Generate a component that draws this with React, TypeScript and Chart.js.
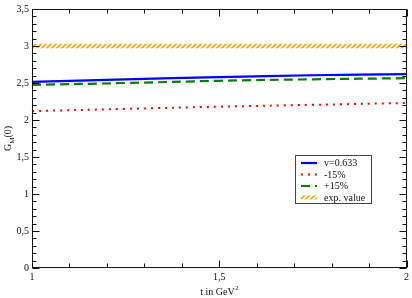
import React, { useEffect, useRef } from 'react';
import { Chart, registerables } from 'chart.js';

Chart.register(...registerables);

// ---- data ----
const tValues = [1, 1.25, 1.5, 1.75, 2];
const gBase = [2.515, 2.55, 2.58, 2.605, 2.62];
const gMinus15 = [2.12, 2.15, 2.18, 2.205, 2.23];
const gPlus15 = [2.475, 2.5, 2.53, 2.55, 2.565];
const expT = [1, 2];
const expUpper = [3.03, 3.03];
const expLower = 2.97;
const seriesLabels = ['v=0.633', '-15%', '+15%', 'exp. value'];
const xTickLabels = ['1', '1,5', '2'];
const yTickLabels = ['0', '0,5', '1', '1,5', '2', '2,5', '3', '3,5'];
const xTitle = 't in GeV';
const xTitleSup = '2';
const yTitleMain = 'G';
const yTitleSub = 'M';
const yTitleTail = '(0)';

const SERIF = "'Liberation Serif', 'DejaVu Serif', serif";

function makeHatch(): CanvasPattern | string {
  const c = document.createElement('canvas');
  c.width = 5;
  c.height = 5;
  const g = c.getContext('2d');
  if (!g) return '#ffa500';
  g.strokeStyle = '#ffa500';
  g.lineWidth = 1.7;
  g.beginPath();
  g.moveTo(-1, 6); g.lineTo(6, -1);
  g.moveTo(-6, 6); g.lineTo(6, -6);
  g.moveTo(-1, 11); g.lineTo(11, -1);
  g.stroke();
  const p = g.createPattern(c, 'repeat');
  return p || '#ffa500';
}

const framePlugin = {
  id: 'framePlugin',
  afterDraw(chart: any) {
    const { ctx, chartArea } = chart;
    const xs = chart.scales.x;
    const ys = chart.scales.y;
    const L = Math.round(chartArea.left) + 0.5;
    const R = Math.round(chartArea.right) - 0.5;
    const T = Math.round(chartArea.top) + 0.5;
    const B = Math.round(chartArea.bottom) - 0.5;
    ctx.save();
    ctx.strokeStyle = '#111';
    ctx.lineWidth = 1;
    ctx.strokeRect(L, T, R - L, B - T);
    ctx.beginPath();
    // x ticks
    for (let i = 0; i <= 10; i++) {
      const v = 1 + i * 0.1;
      const px = Math.round(xs.getPixelForValue(v)) + 0.5;
      const len = i % 5 === 0 ? 7 : 4;
      ctx.moveTo(px, B); ctx.lineTo(px, B - len);
      ctx.moveTo(px, T); ctx.lineTo(px, T + len);
    }
    // y ticks
    for (let i = 0; i <= 35; i++) {
      const v = i * 0.1;
      const py = Math.round(ys.getPixelForValue(v)) + 0.5;
      const len = i % 5 === 0 ? 7 : 4;
      ctx.moveTo(L, py); ctx.lineTo(L + len, py);
      ctx.moveTo(R, py); ctx.lineTo(R - len, py);
    }
    ctx.stroke();

    // axis titles
    ctx.fillStyle = '#111';
    ctx.textBaseline = 'alphabetic';
    // x title
    ctx.font = `10px ${SERIF}`;
    const w1 = ctx.measureText(xTitle).width;
    ctx.font = `7px ${SERIF}`;
    const w2 = ctx.measureText(xTitleSup).width;
    const cx = (chartArea.left + chartArea.right) / 2;
    const sx = cx - (w1 + w2) / 2;
    ctx.font = `10px ${SERIF}`;
    ctx.textAlign = 'left';
    ctx.fillText(xTitle, sx, 295);
    ctx.font = `7px ${SERIF}`;
    ctx.fillText(xTitleSup, sx + w1 + 0.5, 290);

    // y title (rotated)
    ctx.save();
    ctx.translate(11, (chartArea.top + chartArea.bottom) / 2);
    ctx.rotate(-Math.PI / 2);
    ctx.font = `10px ${SERIF}`;
    const a = ctx.measureText(yTitleMain).width;
    const c2 = ctx.measureText(yTitleTail).width;
    ctx.font = `7px ${SERIF}`;
    const b = ctx.measureText(yTitleSub).width;
    const st = -(a + b + c2) / 2;
    ctx.font = `10px ${SERIF}`;
    ctx.fillText(yTitleMain, st, 0);
    ctx.font = `7px ${SERIF}`;
    ctx.fillText(yTitleSub, st + a, 3);
    ctx.font = `10px ${SERIF}`;
    ctx.fillText(yTitleTail, st + a + b, 0);
    ctx.restore();

    // legend
    const bx = 295.5, by = 155.5, bw = 76, bh = 48;
    ctx.fillStyle = '#fff';
    ctx.fillRect(bx, by, bw, bh);
    ctx.strokeStyle = '#444';
    ctx.lineWidth = 1;
    ctx.strokeRect(bx, by, bw, bh);
    const rows = [163, 174.5, 186, 197.5];
    const ds = chart.data.datasets;
    [0, 1, 2, 3].forEach((di, k) => {
      const d = ds[di];
      const y = rows[k];
      if (di === 3) {
        ctx.fillStyle = d.backgroundColor;
        ctx.fillRect(301, y - 2, 16, 4);
      } else {
        ctx.save();
        ctx.strokeStyle = d.borderColor;
        ctx.lineWidth = d.borderWidth;
        ctx.setLineDash(d.borderDash || []);
        ctx.beginPath();
        ctx.moveTo(301, y);
        ctx.lineTo(317, y);
        ctx.stroke();
        ctx.restore();
      }
      ctx.fillStyle = '#111';
      ctx.font = `10px ${SERIF}`;
      ctx.textAlign = 'left';
      ctx.textBaseline = 'middle';
      ctx.fillText(d.label, 324, y + 0.5);
    });
    ctx.restore();
  },
};

export default function App() {
  const ref = useRef<HTMLCanvasElement | null>(null);
  useEffect(() => {
    if (!ref.current) return;
    const hatch = makeHatch();
    const pts = (ys: number[]) => tValues.map((t, i) => ({ x: t, y: ys[i] }));
    const chart = new Chart(ref.current, {
      type: 'line',
      data: {
        datasets: [
          {
            label: seriesLabels[0],
            data: pts(gBase),
            borderColor: '#0000ff',
            borderWidth: 2.2,
            pointRadius: 0,
            fill: false,
            tension: 0.4,
          },
          {
            label: seriesLabels[1],
            data: pts(gMinus15),
            borderColor: '#ff0000',
            borderWidth: 2,
            borderDash: [2, 5],
            pointRadius: 0,
            fill: false,
            tension: 0.4,
          },
          {
            label: seriesLabels[2],
            data: pts(gPlus15),
            borderColor: '#008000',
            borderWidth: 2.2,
            borderDash: [9, 5],
            pointRadius: 0,
            fill: false,
            tension: 0.4,
          },
          {
            label: seriesLabels[3],
            data: expT.map((t, i) => ({ x: t, y: expUpper[i] })),
            borderWidth: 0,
            borderColor: 'rgba(0,0,0,0)',
            backgroundColor: hatch as any,
            pointRadius: 0,
            fill: { value: expLower } as any,
          },
        ],
      },
      options: {
        responsive: false,
        animation: false,
        devicePixelRatio: 1,
        layout: { padding: { top: 5, right: 4, left: 0, bottom: 0 } },
        plugins: { legend: { display: false }, tooltip: { enabled: false } },
        scales: {
          x: {
            type: 'linear',
            min: 1,
            max: 2,
            grid: { display: false, drawTicks: false },
            border: { display: false },
            ticks: {
              stepSize: 0.5,
              autoSkip: false,
              maxRotation: 0,
              padding: 3,
              color: '#111',
              font: { family: SERIF, size: 10 },
              callback: (v: any) => {
                const idx = Math.round((Number(v) - 1) / 0.5);
                return xTickLabels[idx] ?? '';
              },
            },
            afterFit: (s: any) => { s.height = 30; },
          },
          y: {
            type: 'linear',
            min: 0,
            max: 3.5,
            grid: { display: false, drawTicks: false },
            border: { display: false },
            ticks: {
              stepSize: 0.5,
              autoSkip: false,
              padding: 3,
              color: '#111',
              font: { family: SERIF, size: 10 },
              callback: (v: any) => {
                const idx = Math.round(Number(v) / 0.5);
                return yTickLabels[idx] ?? '';
              },
            },
            afterFit: (s: any) => { s.width = 32; },
          },
        },
      },
      plugins: [framePlugin],
    });
    return () => chart.destroy();
  }, []);
  return (
    <div style={{ position: 'fixed', left: 0, top: 0, width: 412, height: 298, background: '#fff' }}>
      <canvas ref={ref} width={412} height={298} style={{ display: 'block' }} />
    </div>
  );
}
